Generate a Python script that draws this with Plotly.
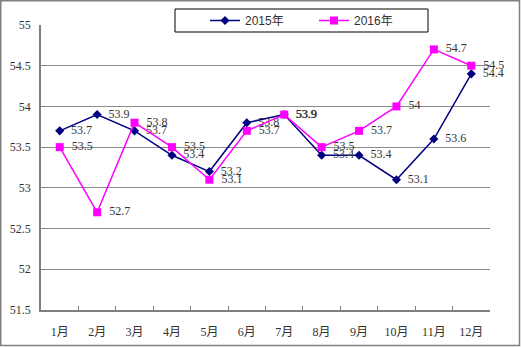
import plotly.graph_objects as go

months = ["1月", "2月", "3月", "4月", "5月", "6月", "7月", "8月", "9月", "10月", "11月", "12月"]
y2015 = [53.7, 53.9, 53.7, 53.4, 53.2, 53.8, 53.9, 53.4, 53.4, 53.1, 53.6, 54.4]
y2016 = [53.5, 52.7, 53.8, 53.5, 53.1, 53.7, 53.9, 53.5, 53.7, 54.0, 54.7, 54.5]
ytick_vals = [51.5, 52, 52.5, 53, 53.5, 54, 54.5, 55]
ytick_text = ["51.5", "52", "52.5", "53", "53.5", "54", "54.5", "55"]

FONT = "Liberation Serif, Noto Sans CJK SC, serif"
W, H = 521, 347
L, R, T, B = 41, 31, 25, 37
PW, PH = W - L - R, H - T - B

def px_x(x):
    return (x - L) / PW

def px_y(y):
    return (H - B - y) / PH

def fmt(v):
    return "\u00a0\u00a0" + ("%g" % v)

fig = go.Figure()
fig.add_trace(go.Scatter(
    x=months, y=y2015, name="2015年", mode="lines+markers+text",
    line=dict(color="#000080", width=1.5),
    marker=dict(symbol="diamond", size=7, color="#000080"),
    text=[fmt(v) for v in y2015], textposition="middle right",
    textfont=dict(family=FONT, size=12, color="#333333"),
    cliponaxis=False,
))
fig.add_trace(go.Scatter(
    x=months, y=y2016, name="2016年", mode="lines+markers+text",
    line=dict(color="#FF00FF", width=1.5),
    marker=dict(symbol="square", size=8, color="#FF00FF"),
    text=[fmt(v) for v in y2016], textposition="middle right",
    textfont=dict(family=FONT, size=12, color="#333333"),
    cliponaxis=False,
))

# outer frame
fig.add_shape(type="rect", xref="paper", yref="paper",
              x0=px_x(0.75), x1=px_x(W - 1.5),
              y0=px_y(H - 1.5), y1=px_y(0.75),
              line=dict(color="#808080", width=1.5), fillcolor="rgba(0,0,0,0)")
# legend box
fig.add_shape(type="rect", xref="paper", yref="paper",
              x0=px_x(175), x1=px_x(428), y0=px_y(32), y1=px_y(9),
              line=dict(color="#000000", width=1), fillcolor="white", layer="below")

fig.update_layout(
    width=W, height=H,
    margin=dict(l=L, r=R, t=T, b=B, autoexpand=False),
    paper_bgcolor="white", plot_bgcolor="white",
    font=dict(family=FONT, size=12, color="#333333"),
    showlegend=True,
    legend=dict(
        orientation="h", xref="container", yref="container",
        x=205 / W, xanchor="left", y=1 - 20.5 / H, yanchor="middle",
        borderwidth=0, bgcolor="rgba(0,0,0,0)",
        font=dict(family="Liberation Sans, Noto Sans CJK SC, sans-serif", size=12, color="#333333"),
        entrywidth=64, tracegroupgap=0,
    ),
    xaxis=dict(
        type="category", showgrid=False, showline=True, linecolor="#808080", linewidth=1.5,
        ticks="inside", ticklen=4, tickcolor="#808080", tickson="boundaries",
        range=[-0.5, 11.5], tickfont=dict(family=FONT, size=12, color="#333333"),
        ticklabelstandoff=10, fixedrange=True,
    ),
    yaxis=dict(
        range=[51.5, 55], tickvals=ytick_vals, ticktext=ytick_text,
        showgrid=True, gridcolor="#8c8c8c", gridwidth=1,
        showline=True, linecolor="#808080", linewidth=1.5,
        ticks="inside", ticklen=4, tickcolor="#808080",
        zeroline=False, tickfont=dict(family=FONT, size=12, color="#333333"),
        ticklabelstandoff=6, fixedrange=True,
    ),
)

fig.write_html("out.html")
